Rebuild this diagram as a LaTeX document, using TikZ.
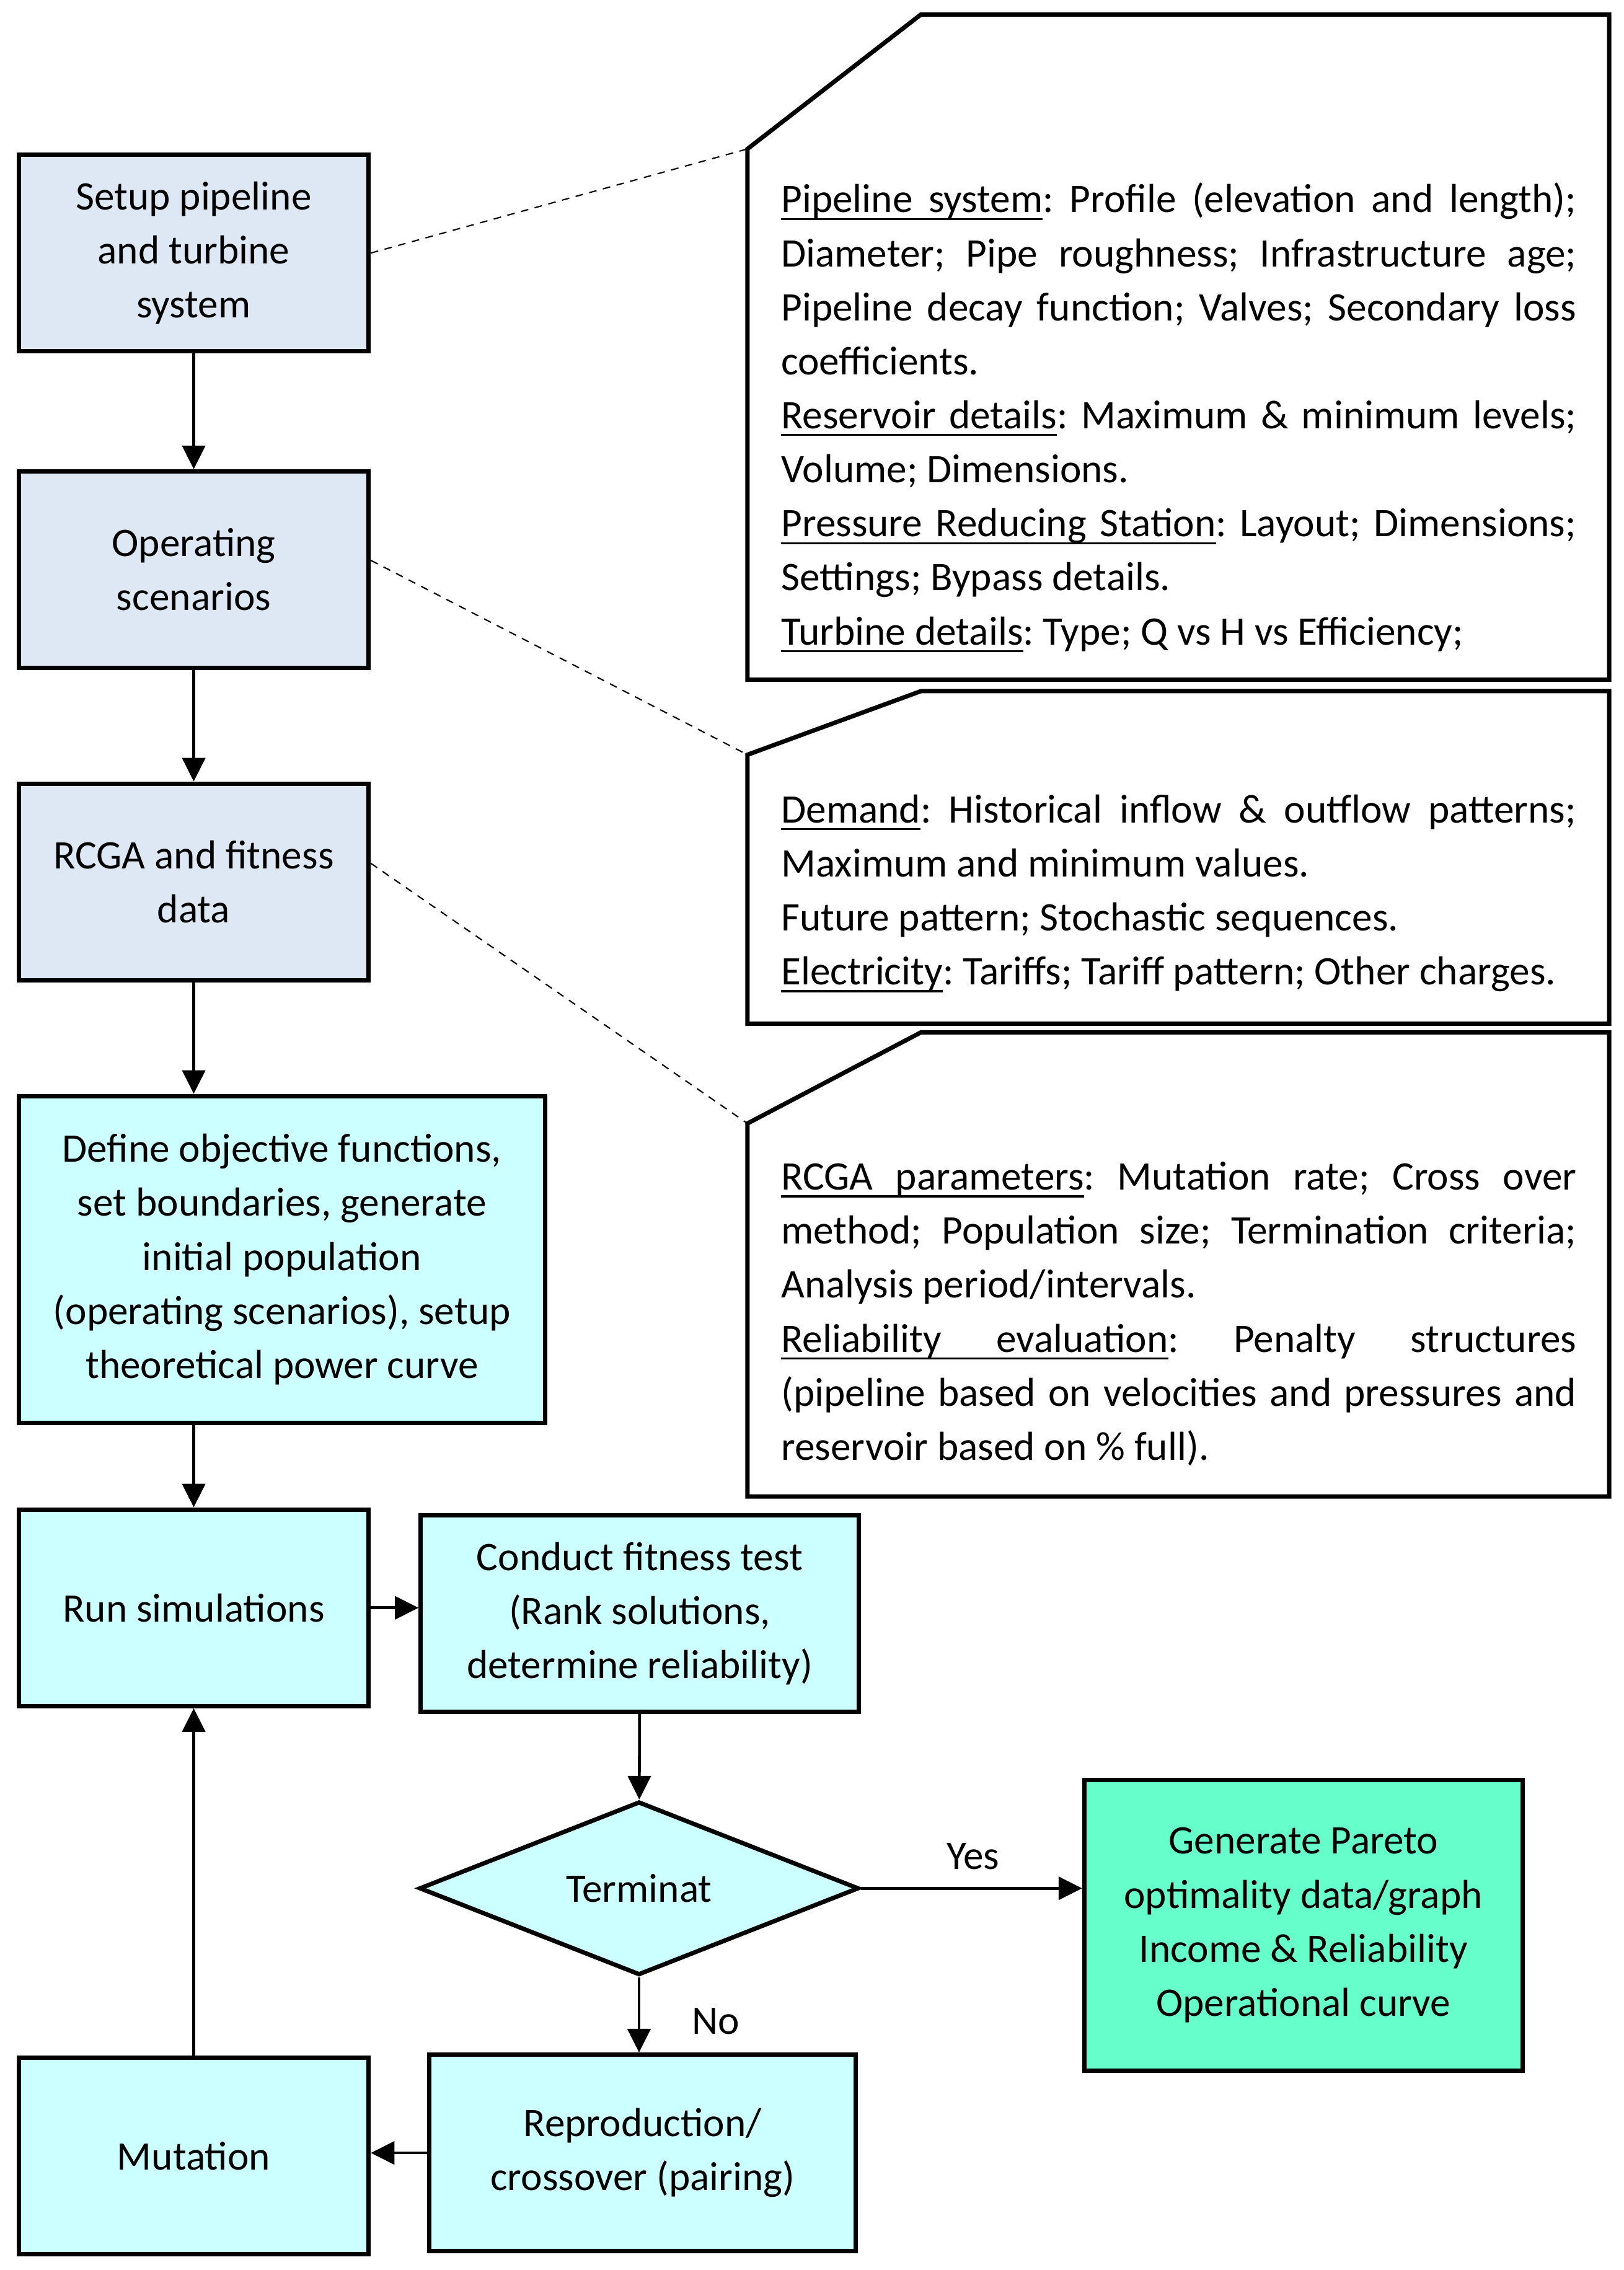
\documentclass[tikz,border=0pt]{standalone}
\usepackage{fontspec}
\setmainfont{Carlito}
\usetikzlibrary{arrows.meta, shapes.geometric}
\definecolor{datablue}{HTML}{DEE8F5}
\definecolor{stepcyan}{HTML}{CCFFFF}
\definecolor{resultgreen}{HTML}{66FFCC}
\setlength{\parindent}{0pt}
\tolerance=10000
\hyphenpenalty=10000
\frenchspacing
% underlined word and stretchable underlined gap
\newcommand{\ulword}[1]{\leavevmode\setbox0=\hbox{#1}\rlap{\rule[-3.4pt]{\wd0}{0.9pt}}\box0}
\newcommand{\ulgap}{\leaders\hrule height -2.5pt depth 3.4pt\hskip\fontdimen2\font plus\fontdimen3\font minus\fontdimen4\font}

\begin{document}
\begin{tikzpicture}[x=0.023333cm, y=-0.023333cm,
        font=\fontsize{18.6}{24.8}\selectfont,
        databox/.style={draw, line width=2pt, fill=datablue, align=center, inner sep=0pt,
            minimum width=5.647cm, minimum height=3.173cm},
        stepbox/.style={draw, line width=2pt, fill=stepcyan, align=center, inner sep=0pt,
            minimum width=5.647cm, minimum height=3.173cm},
        notetext/.style={anchor=base west, inner sep=0pt, text width=12.833cm, align=justify},
        callout/.style={draw, line width=2pt, fill=white},
        link/.style={-{Triangle[length=0.38cm, width=0.37cm]}, line width=1.3pt},
        leader/.style={dash pattern=on 3.5pt off 3pt, line width=0.6pt}]
        \useasboundingbox (0,0) rectangle (1123,1570);

        % Callout boxes with the data sets
        \draw[callout] (637,10) -- (1113,10) -- (1113,470) -- (517,470) -- (517,103) -- cycle;
        \draw[callout] (637,478) -- (1113,478) -- (1113,708) -- (517,708) -- (517,522) -- cycle;
        \draw[callout] (637,714) -- (1113,714) -- (1113,1035) -- (517,1035) -- (517,777) -- cycle;
        \coordinate (pipecorner) at (517,103);
        \coordinate (demandcorner) at (517,522);
        \coordinate (rcgacorner) at (517,777);

        \node[notetext] (pipenote) at (540,147) {\ulword{Pipeline}\ulgap\ulword{system}: Profile (elevation and length);\linebreak
            Diameter; Pipe roughness; Infrastructure age;\linebreak
            Pipeline decay function; Valves; Secondary loss\linebreak
            coefficients.\par
            \ulword{Reservoir}\ulgap\ulword{details}: Maximum \& minimum levels;\linebreak
            Volume; Dimensions.\par
            \ulword{Pressure}\ulgap\ulword{Reducing}\ulgap\ulword{Station}: Layout; Dimensions;\linebreak
            Settings; Bypass details.\par
            \ulword{Turbine}\ulgap\ulword{details}: Type; Q vs H vs Efficiency;};
        \node[notetext] (demandnote) at (540,569) {\ulword{Demand}: Historical inflow \& outflow patterns;\linebreak
            Maximum and minimum values.\par
            Future pattern; Stochastic sequences.\par
            \ulword{Electricity}: Tariffs; Tariff pattern; Other charges.};
        \node[notetext] (rcganote) at (540,823) {\ulword{RCGA}\ulgap\ulword{parameters}: Mutation rate; Cross over\linebreak
            method; Population size; Termination criteria;\linebreak
            Analysis period/intervals.\par
            \ulword{Reliability}\ulgap\ulword{evaluation}: Penalty structures\linebreak
            (pipeline based on velocities and pressures and\linebreak
            reservoir based on \% full).};

        % Input boxes
        \node[databox] (setup) at (134,175) {Setup pipeline\\and turbine\\system};
        \node[databox] (scenarios) at (134,394) {Operating\\scenarios};
        \node[databox] (fitdata) at (134,610) {RCGA and fitness\\data};

        % Algorithm steps
        \node[stepbox, minimum width=8.493cm, minimum height=5.273cm] (define) at (195,871)
            {Define objective functions,\\set boundaries, generate\\initial population\\(operating scenarios), setup\\theoretical power curve};
        \node[stepbox] (simulate) at (134,1112) {Run simulations};
        \node[stepbox, minimum width=7.07cm] (fitness) at (442.5,1116) {Conduct fitness test\\(Rank solutions,\\determine reliability)};
        \node[stepbox, shape=diamond, aspect=2.5, minimum width=7.093cm, minimum height=2.8cm] (terminate) at (442,1306) {Terminat};
        \node[stepbox, fill=resultgreen, minimum width=7.07cm, minimum height=4.69cm] (pareto) at (901.5,1331.5)
            {Generate Pareto\\optimality data/graph\\Income \& Reliability\\Operational curve};
        \node[stepbox, minimum width=6.883cm] (crossover) at (444.5,1489) {Reproduction/\\crossover (pairing)};
        \node[stepbox] (mutation) at (134,1491) {Mutation};

        % Dashed leaders to the callouts
        \draw[leader] (setup.east) -- (pipecorner);
        \draw[leader] (scenarios.3) -- (demandcorner);
        \draw[leader] (fitdata.6) -- (rcgacorner);

        % Flow arrows
        \draw[link] (setup) -- (scenarios);
        \draw[link] (scenarios) -- (fitdata);
        \draw[link] (fitdata) -- (fitdata |- define.north);
        \draw[link] (define.south -| simulate) -- (simulate);
        \draw[link] (simulate.east) -- (simulate.east -| fitness.west);
        \draw[link] (fitness) -- (terminate);
        \draw[link] (terminate.east) -- (terminate.east -| pareto.west);
        \draw[link] (terminate.south) -- (terminate.south |- crossover.north);
        \draw[link] (crossover.west) -- (crossover.west -| mutation.east);
        \draw[link] (mutation) -- (simulate);

        % Decision labels
        \node (yes) at (673,1284) {Yes};
        \node (no) at (495,1398) {No};
    \end{tikzpicture}
\end{document}
